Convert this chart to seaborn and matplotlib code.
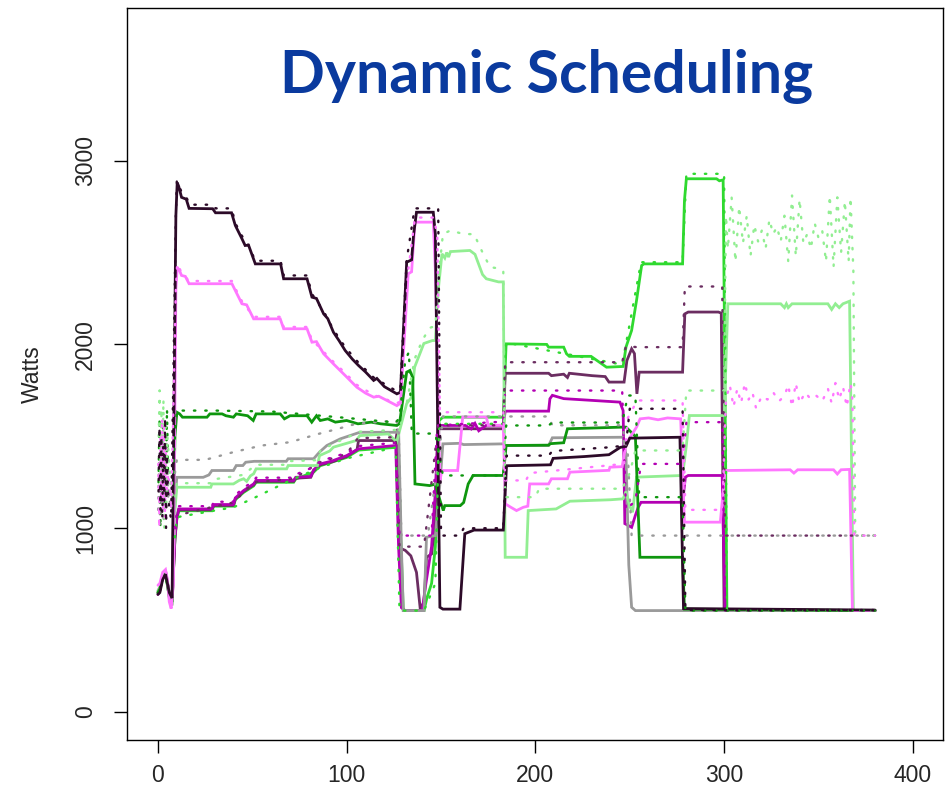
import matplotlib
matplotlib.use("Agg")
import matplotlib.pyplot as plt
import seaborn as sns
import pandas as pd

# ---------------- data (time, watts) ----------------
dark_purple = [(0,640),(1,650),(2.5,720),(4,750),(5,700),(6,650),(7.5,620),(9.5,2700),(10.2,2880),(11,2860),
    (12.5,2800),(15,2790),(16.5,2740),(29,2738),(30.5,2716),(39,2716),(41,2647),(44.5,2575),(46.2,2538),(48,2540),
    (51.6,2438),(65,2438),(66.6,2357),(79,2357),(81.6,2257),(84,2250),(87.8,2166),(90,2140),(93,2066),(96,2020),
    (99.2,1967),(103,1920),(106.3,1885),(110,1850),(114.3,1804),(116,1815),(120,1770),(126.6,1731),(128.5,1740),
    (131.8,2447),(134.4,2460),(135.5,2600),(137,2719),(145.9,2719),(147,2600),(149.4,570),(151,560),(160,560),
    (162.6,970),(167.5,990),(183,990),(184.7,1340),(208,1345),(209.4,1380),(226,1390),(239,1400),(245,1440),
    (248,1445),(250,1490),(276.6,1495),(278.5,563),(380,555)]
pink = [(0,690),(1,700),(2.5,760),(4,775),(5,720),(6,600),(7,563),(8.2,700),(9.5,2300),(10.2,2420),(11.5,2400),
    (12.5,2375),(14.5,2370),(16.5,2330),(39.2,2330),(41,2293),(44.5,2221),(47,2215),(50.7,2139),(64.8,2139),
    (66.6,2085),(79,2085),(81.6,2012),(84,2015),(87.8,1949),(93,1894),(99.2,1831),(105.4,1767),(110,1735),
    (114.3,1713),(117,1718),(126.6,1667),(128.5,1680),(132.6,2384),(134.4,2395),(136.2,2665),(145.9,2665),
    (147,2400),(149.4,1260),(150.5,1314),(158.8,1314),(161.5,1605),(174,1605),(175,1560),(183,1560),(184,1133),
    (187,1114),(190,1096),(193.6,1114),(196,1120),(197,1241),(207,1241),(208.5,1269),(217,1269),(218.3,1305),
    (239,1315),(239.5,1332),(246,1335),(248,1459),(253.6,1550),(255.5,1595),(260,1600),(265,1590),(270,1600),
    (277,1595),(279,1033),(298,1033),(300.5,1314),(335,1318),(337,1300),(339,1318),(358,1318),(360,1295),
    (362,1318),(366.5,1320),(368,552),(380,552)]
dark_green = [(0,650),(1,670),(2.5,730),(4,750),(5,690),(6,630),(7.5,600),(9,1500),(10,1631),(11.5,1622),
    (13,1604),(26,1604),(27.5,1622),(34,1622),(36,1612),(40,1604),(41.5,1622),(47.5,1612),(50.5,1586),(52,1622),
    (64.8,1622),(67,1595),(70,1612),(79,1612),(81.5,1577),(84,1612),(86,1586),(90,1595),(94,1577),(100,1586),
    (106,1568),(113,1577),(118,1568),(126.6,1559),(128,1570),(131.8,1849),(133.5,1858),(135,1820),(136.2,1241),
    (144,1232),(147,1240),(149.5,1150),(151.2,1096),(152,1123),(160.2,1123),(162,1140),(164.4,1241),(167,1287),
    (183,1287),(184.5,1450),(207,1452),(208,1460),(215,1465),(217,1541),(230,1545),(246,1550),(248,1550),
    (253,1500),(255.4,842),(278,842),(279,560),(380,552)]
light_green = [(0,655),(1,675),(2.5,735),(4,755),(5,695),(6,625),(7.5,590),(9,1100),(10,1223),(28,1223),
    (28.6,1241),(40,1241),(43,1260),(45.4,1269),(47,1255),(49,1285),(50.7,1296),(52,1323),(68.2,1323),(69,1341),
    (84.5,1341),(85.6,1395),(91,1420),(93,1441),(105,1477),(107,1504),(122,1513),(124.5,1490),(126.5,1470),
    (131.8,1678),(134.4,1713),(136,1876),(140.9,2005),(145.4,2021),(147,2021),(148.5,2293),(150.5,2493),
    (152,2470),(153,2500),(154,2475),(155,2505),(165.3,2511),(168,2490),(172,2380),(174,2357),(180.5,2340),
    (183,2340),(184,842),(195.3,842),(196.2,1096),(211,1105),(218.3,1147),(240,1155),(246.5,1160),(248,1200),
    (250,1120),(251.5,1087),(253.6,1278),(278,1287),(280,1450),(281.6,1613),(300.1,1613),(302,2221),(330,2221),
    (332,2200),(333,2221),(334,2200),(336,2221),(355,2221),(357,2190),(359,2221),(361,2200),(363,2221),
    (366.5,2235),(368.5,552),(380,552)]
grey = [(0,660),(1,680),(2.5,740),(4,760),(5,700),(6,620),(7.5,580),(9,1150),(10,1277),(24,1277),(27,1290),
    (28.6,1314),(40,1314),(41.5,1341),(45,1341),(46.5,1359),(51,1364),(68,1364),(69,1378),(82.5,1378),
    (85.6,1414),(89.5,1450),(96.6,1486),(107,1522),(126.6,1522),(127.5,1540),(129,900),(130,552),(141,552),
    (142.3,951),(147,960),(149.4,1242),(151,1459),(160,1462),(162,1455),(183,1459),(184.5,1450),(207,1450),
    (209,1492),(246.5,1495),(248,1400),(249.5,800),(251,570),(253,552),(380,552)]
magenta = [(0,640),(1,660),(2.5,745),(4,770),(5,710),(6,640),(7.5,600),(9,950),(10,1060),(11,1105),(28.6,1105),
    (29.5,1129),(40,1129),(41,1165),(45.4,1205),(50.7,1241),(52,1260),(71.9,1260),(73,1277),(81,1282),
    (82.5,1318),(86,1350),(92,1365),(100,1395),(106.3,1432),(126,1450),(127.5,900),(129,568),(131,552),
    (140,552),(142,700),(145,900),(147,1200),(148.5,1559),(163,1559),(166,1540),(168,1570),(170,1530),
    (174,1560),(183,1559),(184,1637),(207,1637),(207.7,1704),(209,1723),(215,1705),(244.8,1686),(246.5,1640),
    (247.4,1025),(251,1005),(253,1070),(254.5,1114),(256,1141),(278,1141),(279.5,1278),(281,1287),(299,1287),
    (300.5,552),(380,552)]
plum = [(0,650),(1,665),(2.5,735),(4,755),(5,705),(6,640),(7.5,605),(9,950),(10,1055),(11,1100),(28.6,1100),
    (29.5,1124),(40,1124),(41,1160),(45.4,1200),(50.7,1236),(52,1255),(71.9,1255),(73,1272),(81,1277),
    (82.5,1313),(86,1345),(92,1360),(100,1390),(105.5,1428),(106.3,1477),(126,1477),(127,1540),(128.5,890),
    (131,880),(134,850),(137,760),(139,560),(141,600),(142.3,842),(145,860),(146.5,1000),(148.5,1541),
    (183,1541),(184,1843),(207,1843),(208.5,1830),(215,1838),(217,1820),(218,1843),(230,1830),(237,1825),
    (239,1795),(247,1795),(248.5,1912),(251,1976),(252.5,1950),(253.8,1731),(255,1849),(278,1849),(279.2,2166),
    (281,2176),(297,2176),(298.5,2170),(300,552),(380,552)]
bright_green = [(0,645),(1,660),(2.5,735),(4,760),(5,700),(6,630),(7.5,595),(9,940),(10,1050),(11,1095),
    (28.6,1095),(29.5,1120),(40,1120),(41,1155),(45.4,1195),(50.7,1230),(52,1250),(71.9,1250),(73,1268),
    (82.5,1305),(86,1340),(100,1385),(106.3,1425),(126,1440),(127.5,1400),(128.5,1000),(130,552),(141,552),
    (142.5,620),(145,700),(147,900),(149,1586),(151,1604),(183,1604),(184.5,2003),(206,2000),(207,1985),
    (215,1985),(216.5,1949),(218,1935),(229.5,1935),(237.7,1876),(246.5,1880),(248,1985),(251,2076),
    (253.6,2239),(256.3,2429),(257.5,2438),(278,2438),(279,2783),(280,2901),(296,2901),(297.5,2890),
    (299.5,2895),(301.5,552),(380,552)]

# dotted (second measurement) series
dark_purple_dot = [(0.3,1200),(0.8,1550),(1.3,1100),(1.8,1500),(2.3,1050),(2.8,1450),(3.3,1150),(3.8,1600),
    (4.3,1000),(4.8,1400),(5.3,1200),(6,1100),(7,1050),(9.5,2700),(10,2890),(12.5,2830),(15,2800),(17,2760),
    (29,2760),(30.5,2740),(39,2740),(41,2660),(44.5,2590),(47,2560),(51.6,2455),(65,2455),(66.6,2375),(79,2375),
    (81.6,2275),(87.8,2180),(93,2080),(99.2,1985),(106.3,1900),(114.3,1820),(126.6,1745),(128.5,1760),
    (131.8,2460),(136,2740),(146,2740),(148.5,2740),(150,960),(160,960),(162,1000),(183,1000),(184.7,1395),
    (207,1395),(209,1420),(239,1440),(248,1450),(250,1650),(278,1650),(279.5,555),(380,555)]
pink_dot = [(0.2,1350),(0.7,1000),(1.2,1500),(1.7,1150),(2.2,1600),(2.7,1100),(3.2,1550),(3.7,1050),(4.2,1450),
    (4.7,1200),(5.5,1300),(7,1100),(9.5,2300),(10.2,2440),(12.5,2390),(16.5,2345),(39.2,2345),(41,2305),
    (44.5,2235),(50.7,2150),(64.8,2150),(66.6,2095),(79,2095),(81.6,2025),(87.8,1960),(93,1905),(99.2,1845),
    (105.4,1780),(114.3,1725),(126.6,1680),(128.5,1690),(132.6,2400),(136.2,2690),(146,2690),(148,2600),
    (149.4,1631),(183,1631),(184,1260),(195,1260),(197,1300),(247,1350),(249,1600),(254,1695),(278,1695),
    (279.5,1100),(299,1100),(301,1700),(303,1780),(305,1660),(307,1760),(309,1680),(311,1790),(313,1700),
    (315,1740),(317,1650),(320,1720),(323,1700),(326,1740),(329,1690),(332,1720),(334,1780),(336,1660),
    (338,1790),(340,1680),(343,1740),(346,1700),(349,1720),(352,1690),(355,1760),(357,1680),(359,1790),
    (361,1700),(363,1770),(365,1660),(367,1790),(368,1700),(369,960),(380,960)]
light_green_dot = [(0.4,1500),(0.9,1750),(1.4,1250),(1.9,1650),(2.4,1300),(2.9,1700),(3.4,1000),(3.9,1550),
    (4.4,1100),(5,1500),(6,1350),(7,1200),(9,1150),(10,1245),(28,1245),(29,1265),(45,1290),(52,1345),(68,1345),
    (69,1365),(84,1370),(86,1420),(93,1460),(107,1525),(126,1535),(128,1540),(132,1690),(136,1920),(140,2021),
    (144,2090),(147,2100),(149,2400),(151,2600),(155,2620),(162,2600),(167.5,2600),(172,2500),(176,2420),
    (181,2413),(183,2400),(184,1169),(200,1169),(202,1215),(246,1215),(250,1300),(253,1423),(278,1423),
    (280,1749),(300,1749),(301,2700),(302,2520),(304,2800),(306,2450),(308,2750),(310,2550),(312,2700),
    (314,2480),(316,2650),(318,2560),(320,2620),(322,2520),(324,2680),(326,2600),(328,2640),(330,2560),
    (332,2700),(334,2450),(336,2810),(338,2480),(340,2790),(342,2550),(344,2600),(346,2520),(348,2660),
    (350,2580),(352,2620),(354,2450),(356,2810),(358,2420),(360,2800),(362,2500),(364,2780),(366,2450),
    (367,2800),(368.5,2400),(369.5,960),(380,960)]
grey_dot = [(0.1,1100),(0.6,1400),(1.1,1050),(1.6,1350),(2.1,1200),(2.6,1500),(3.1,1050),(3.6,1400),(4.1,1200),
    (4.6,1500),(5.5,1150),(7,1250),(9,1300),(10,1372),(25,1372),(40,1414),(55,1450),(70,1468),(85,1513),
    (95,1540),(105,1568),(126,1586),(127.5,1560),(129,960),(143,960),(149,1400),(151,1608),(207,1608),
    (209,1560),(246,1560),(249,1400),(251,960),(380,960)]
dark_green_dot = [(0.3,1250),(0.8,1600),(1.3,1000),(1.8,1450),(2.3,1150),(2.8,1550),(3.3,1100),(3.8,1500),
    (4.3,1300),(4.8,1650),(5.5,1200),(7,1100),(9,1500),(10,1640),(30,1640),(60,1635),(100,1600),(126,1575),
    (128,1600),(131,1910),(133,1960),(134.5,1515),(147,1515),(149,1400),(151,1287),(183,1287),(184.5,1559),
    (207,1559),(209,1575),(246,1575),(249,1722),(253,1722),(255,1169),(278,1169),(279.5,552),(380,552)]
magenta_dot = [(9,1000),(10,1075),(11,1120),(28.6,1120),(29.5,1144),(40,1144),(41,1180),(45.4,1220),(50.7,1256),
    (52,1275),(71.9,1275),(73,1292),(82.5,1333),(86,1365),(100,1410),(106.3,1447),(126,1465),(128,960),
    (145,960),(148,1559),(183,1580),(184,1749),(246,1749),(248,1100),(253,1150),(256,1350),(278,1350),
    (280,1577),(299,1577),(300.5,552),(380,552)]
plum_dot = [(9,1000),(10,1070),(28.6,1115),(40,1140),(50.7,1250),(71.9,1270),(86,1360),(100,1405),(106,1490),
    (126,1495),(128,900),(141,900),(148.5,1560),(183,1560),(184,1903),(246,1903),(248,1990),(254,1985),
    (278,1985),(279.2,2315),(299,2315),(300.5,960),(380,960)]
bright_green_dot = [(9,950),(10,1060),(40,1114),(50,1160),(70,1260),(86,1330),(100,1380),(126,1440),(128,552),
    (141,552),(147,700),(149,1568),(183,1568),(184.5,2010),(246,1890),(256,2447),(278,2447),(280,2928),
    (300,2928),(301.5,552),(380,552)]

x_ticks = [0, 100, 200, 300, 400]
y_ticks = [0, 1000, 2000, 3000]
title_text = "Dynamic Scheduling"
y_label = "Watts"

colors = {
    "bright_green": "#2fd92f", "plum": "#6b2d61", "magenta": "#b300b3", "grey": "#9a9a9a",
    "light_green": "#92ee92", "dark_green": "#0e960e", "pink": "#ff77ff", "dark_purple": "#2c0a28",
}
solid_series = [("bright_green", bright_green), ("plum", plum), ("magenta", magenta), ("grey", grey),
                ("light_green", light_green), ("dark_green", dark_green), ("pink", pink),
                ("dark_purple", dark_purple)]
dot_series = [("grey", grey_dot), ("bright_green", bright_green_dot), ("plum", plum_dot),
              ("magenta", magenta_dot), ("dark_green", dark_green_dot), ("light_green", light_green_dot),
              ("pink", pink_dot), ("dark_purple", dark_purple_dot)]

# ---------------- plotting ----------------
sns.set_theme(style="white")
plt.rcParams["font.family"] = ["Liberation Sans", "DejaVu Sans"]

fig = plt.figure(figsize=(9.5, 7.94), dpi=100)
ax = fig.add_axes([127/950, 1-740/794, (943-127)/950, (740-8)/794])

for name, pts in solid_series:
    df = pd.DataFrame(pts, columns=["t", "w"])
    sns.lineplot(data=df, x="t", y="w", ax=ax, color=colors[name], linewidth=2.0,
                 sort=False, estimator=None, solid_joinstyle="miter")
for name, pts in dot_series:
    df = pd.DataFrame(pts, columns=["t", "w"])
    sns.lineplot(data=df, x="t", y="w", ax=ax, color=colors[name], linewidth=1.7,
                 sort=False, estimator=None, linestyle=(0, (0.6, 4.2)), dash_capstyle="round")

ax.set_xlim(-16.4, 416)
ax.set_ylim(-152, 3830)
ax.set_xticks(x_ticks)
ax.set_yticks(y_ticks)
ax.set_xticklabels([str(v) for v in x_ticks], fontsize=16.5)
ax.set_yticklabels([str(v) for v in y_ticks], fontsize=16.5, rotation=90, va="center")
ax.tick_params(axis="both", direction="out", length=9.5, width=1.0, color="black", left=True, bottom=True)
ax.tick_params(axis="x", pad=8)
ax.tick_params(axis="y", pad=12)
ax.set_xlabel("")
ax.set_ylabel(y_label, fontsize=16.5, labelpad=22)
for sp in ax.spines.values():
    sp.set_visible(True)
    sp.set_color("black")
    sp.set_linewidth(1.0)

fig.text(547/950, 1-76/794, title_text, fontsize=42.5, fontweight="bold", color="#0a3a9e",
         ha="center", va="center", family=["Lato", "DejaVu Sans"])

fig.savefig("out.png", dpi=100)
